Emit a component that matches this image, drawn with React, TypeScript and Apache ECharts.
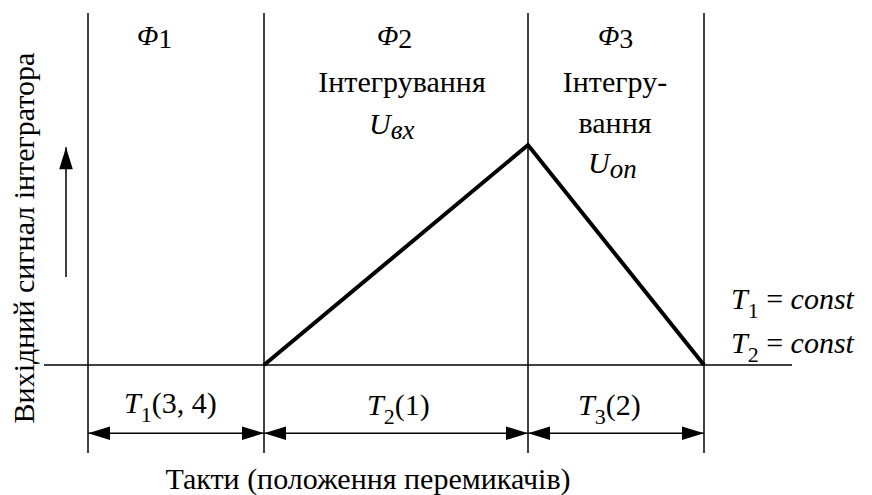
import React, { useEffect, useRef } from "react";
import * as echarts from "echarts";

// Time axis (units of the clock), value axis (arbitrary units)
const phaseBoundaries = [0, 2, 5, 7];
const signalTimes = [2, 5, 7];
const signalValues = [0, 5, 0];
const baselineTimes = [-0.5, 8];
const yRange = [-2, 8];
const xRange = [-0.5, 8];
const dimensionSpans = [
  [0, 2],
  [2, 5],
  [5, 7],
];
const dimensionLevel = -1.55;
const axisArrowX = -0.25;
const axisArrowFrom = 2;
const axisArrowTo = 4.95;

const FAM = "Liberation Serif";

function rs(size: number, italic: boolean, lh: number, va: string) {
  const s: any = {
    fontFamily: FAM,
    fontSize: size,
    fontWeight: "normal",
    lineHeight: lh,
    verticalAlign: va,
    fill: "#000",
  };
  if (italic) s.fontStyle = "italic";
  return s;
}

const RICH: any = {
  i: rs(30, true, 46, "middle"),
  n: rs(30, false, 46, "middle"),
  s: rs(22, false, 22, "bottom"),
  f: rs(28, true, 34, "middle"),
  fs: rs(28, false, 14, "bottom"),
  u: rs(30, true, 40, "middle"),
  ua: rs(27, true, 24, "bottom"),
  ub: rs(27, true, 17, "bottom"),
};

function txt(
  text: string,
  x: number,
  y: number,
  size: number,
  align: string = "left",
  extra: any = {}
) {
  return {
    type: "text",
    x,
    y,
    silent: true,
    style: {
      text,
      fontFamily: FAM,
      fontSize: size,
      fontWeight: "normal",
      fill: "#000",
      align,
      verticalAlign: "middle",
    },
    ...extra,
  };
}

function rich(text: string, x: number, y: number) {
  return {
    type: "text",
    x,
    y,
    silent: true,
    style: {
      text,
      fontFamily: FAM,
      fontSize: 30,
      fontWeight: "normal",
      fill: "#000",
      align: "left",
      verticalAlign: "middle",
      rich: RICH,
    },
  };
}

export default function App() {
  const ref = useRef<HTMLDivElement>(null);
  const textRef = useRef<HTMLDivElement>(null);

  useEffect(() => {
    if (!ref.current || !textRef.current) return;
    const chart = echarts.init(ref.current, null, { renderer: "svg" });
    const labels = echarts.init(textRef.current, null, { renderer: "svg" });

    const arrowData: number[][] = dimensionSpans.map(([a, b]) => [
      a,
      dimensionLevel,
      b,
      dimensionLevel,
      1,
      1,
    ]);
    arrowData.push([axisArrowX, axisArrowFrom, axisArrowX, axisArrowTo, 0, 1]);

    const black = "#000";

    const series: any[] = [
      {
        type: "line",
        name: "baseline",
        data: baselineTimes.map((x) => [x, 0]),
        symbol: "none",
        silent: true,
        lineStyle: { color: black, width: 1.5 },
      },
      ...phaseBoundaries.map((b) => ({
        type: "line",
        name: "boundary" + b,
        data: [
          [b, yRange[0]],
          [b, yRange[1]],
        ],
        symbol: "none",
        silent: true,
        lineStyle: { color: black, width: 1.5 },
      })),
      {
        type: "line",
        name: "signal",
        data: signalTimes.map((x, i) => [x, signalValues[i]]),
        symbol: "none",
        silent: true,
        lineStyle: { color: black, width: 4, join: "miter", cap: "butt" },
        z: 5,
      },
      {
        type: "custom",
        name: "arrows",
        data: arrowData,
        encode: { x: [0, 2], y: [1, 3] },
        clip: false,
        silent: true,
        renderItem: (_params: any, api: any) => {
          const p0 = api.coord([api.value(0), api.value(1)]);
          const p1 = api.coord([api.value(2), api.value(3)]);
          const dx = p1[0] - p0[0];
          const dy = p1[1] - p0[1];
          const len = Math.hypot(dx, dy) || 1;
          const ux = dx / len;
          const uy = dy / len;
          const nx = -uy;
          const ny = ux;
          const L = 22;
          const W = 6.8;
          const head = (tip: number[], d: number[]) => {
            const bx = tip[0] - d[0] * L;
            const by = tip[1] - d[1] * L;
            return {
              type: "polygon",
              shape: {
                points: [
                  [tip[0], tip[1]],
                  [bx + nx * W, by + ny * W],
                  [bx - nx * W, by - ny * W],
                ],
              },
              style: { fill: black },
            };
          };
          const children: any[] = [
            {
              type: "line",
              shape: { x1: p0[0], y1: p0[1], x2: p1[0], y2: p1[1] },
              style: { stroke: black, lineWidth: 1.5 },
            },
          ];
          if (api.value(4)) children.push(head(p0, [-ux, -uy]));
          if (api.value(5)) children.push(head(p1, [ux, uy]));
          return { type: "group", children };
        },
        z: 6,
      },
    ];

    const graphic: any[] = [
      // Phase labels
      rich("{f|Φ}{fs|1}", 137, 35.5),
      rich("{f|Φ}{fs|2}", 377, 35.5),
      rich("{f|Φ}{fs|3}", 598, 35.5),
      // Phase 2 description
      txt("Інтегрування", 402, 81, 30, "center"),
      rich("{u|U}{ua|вх}", 369, 123),
      // Phase 3 description
      txt("Інтегру-", 615, 81, 30, "center"),
      txt("вання", 615, 122, 30, "center"),
      rich("{u|U}{ub|оп}", 588, 162),
      // Constants
      rich("{i|T}{s|1}{n| = }{i|const}", 731, 298),
      rich("{i|T}{s|2}{n| = }{i|const}", 731, 342),
      // Durations
      rich("{i|T}{s|1}{n|(3, 4)}", 124, 402),
      rich("{i|T}{s|2}{n|(1)}", 367, 404),
      rich("{i|T}{s|3}{n|(2)}", 578, 404),
      // Axis titles
      txt("Такти (положення перемикачів)", 368, 478, 30, "center"),
      txt("Вихідний сигнал інтегратора", 23, 238, 30, "center", {
        rotation: Math.PI / 2,
      }),
    ];

    chart.setOption({
      animation: false,
      grid: { left: 44, top: 13, width: 748, height: 440 },
      xAxis: {
        type: "value",
        min: xRange[0],
        max: xRange[1],
        show: false,
      },
      yAxis: {
        type: "value",
        min: yRange[0],
        max: yRange[1],
        show: false,
      },
      series,
    });

    labels.setOption({
      animation: false,
      graphic,
    });

    return () => {
      labels.dispose();
      chart.dispose();
    };
  }, []);

  const box: any = {
    position: "fixed",
    left: 0,
    top: 0,
    width: 872,
    height: 495,
  };

  return (
    <div>
      <div style={{ ...box, background: "#fff" }} />
      <div ref={ref} style={box} />
      <div ref={textRef} style={{ ...box, pointerEvents: "none" }} />
    </div>
  );
}
